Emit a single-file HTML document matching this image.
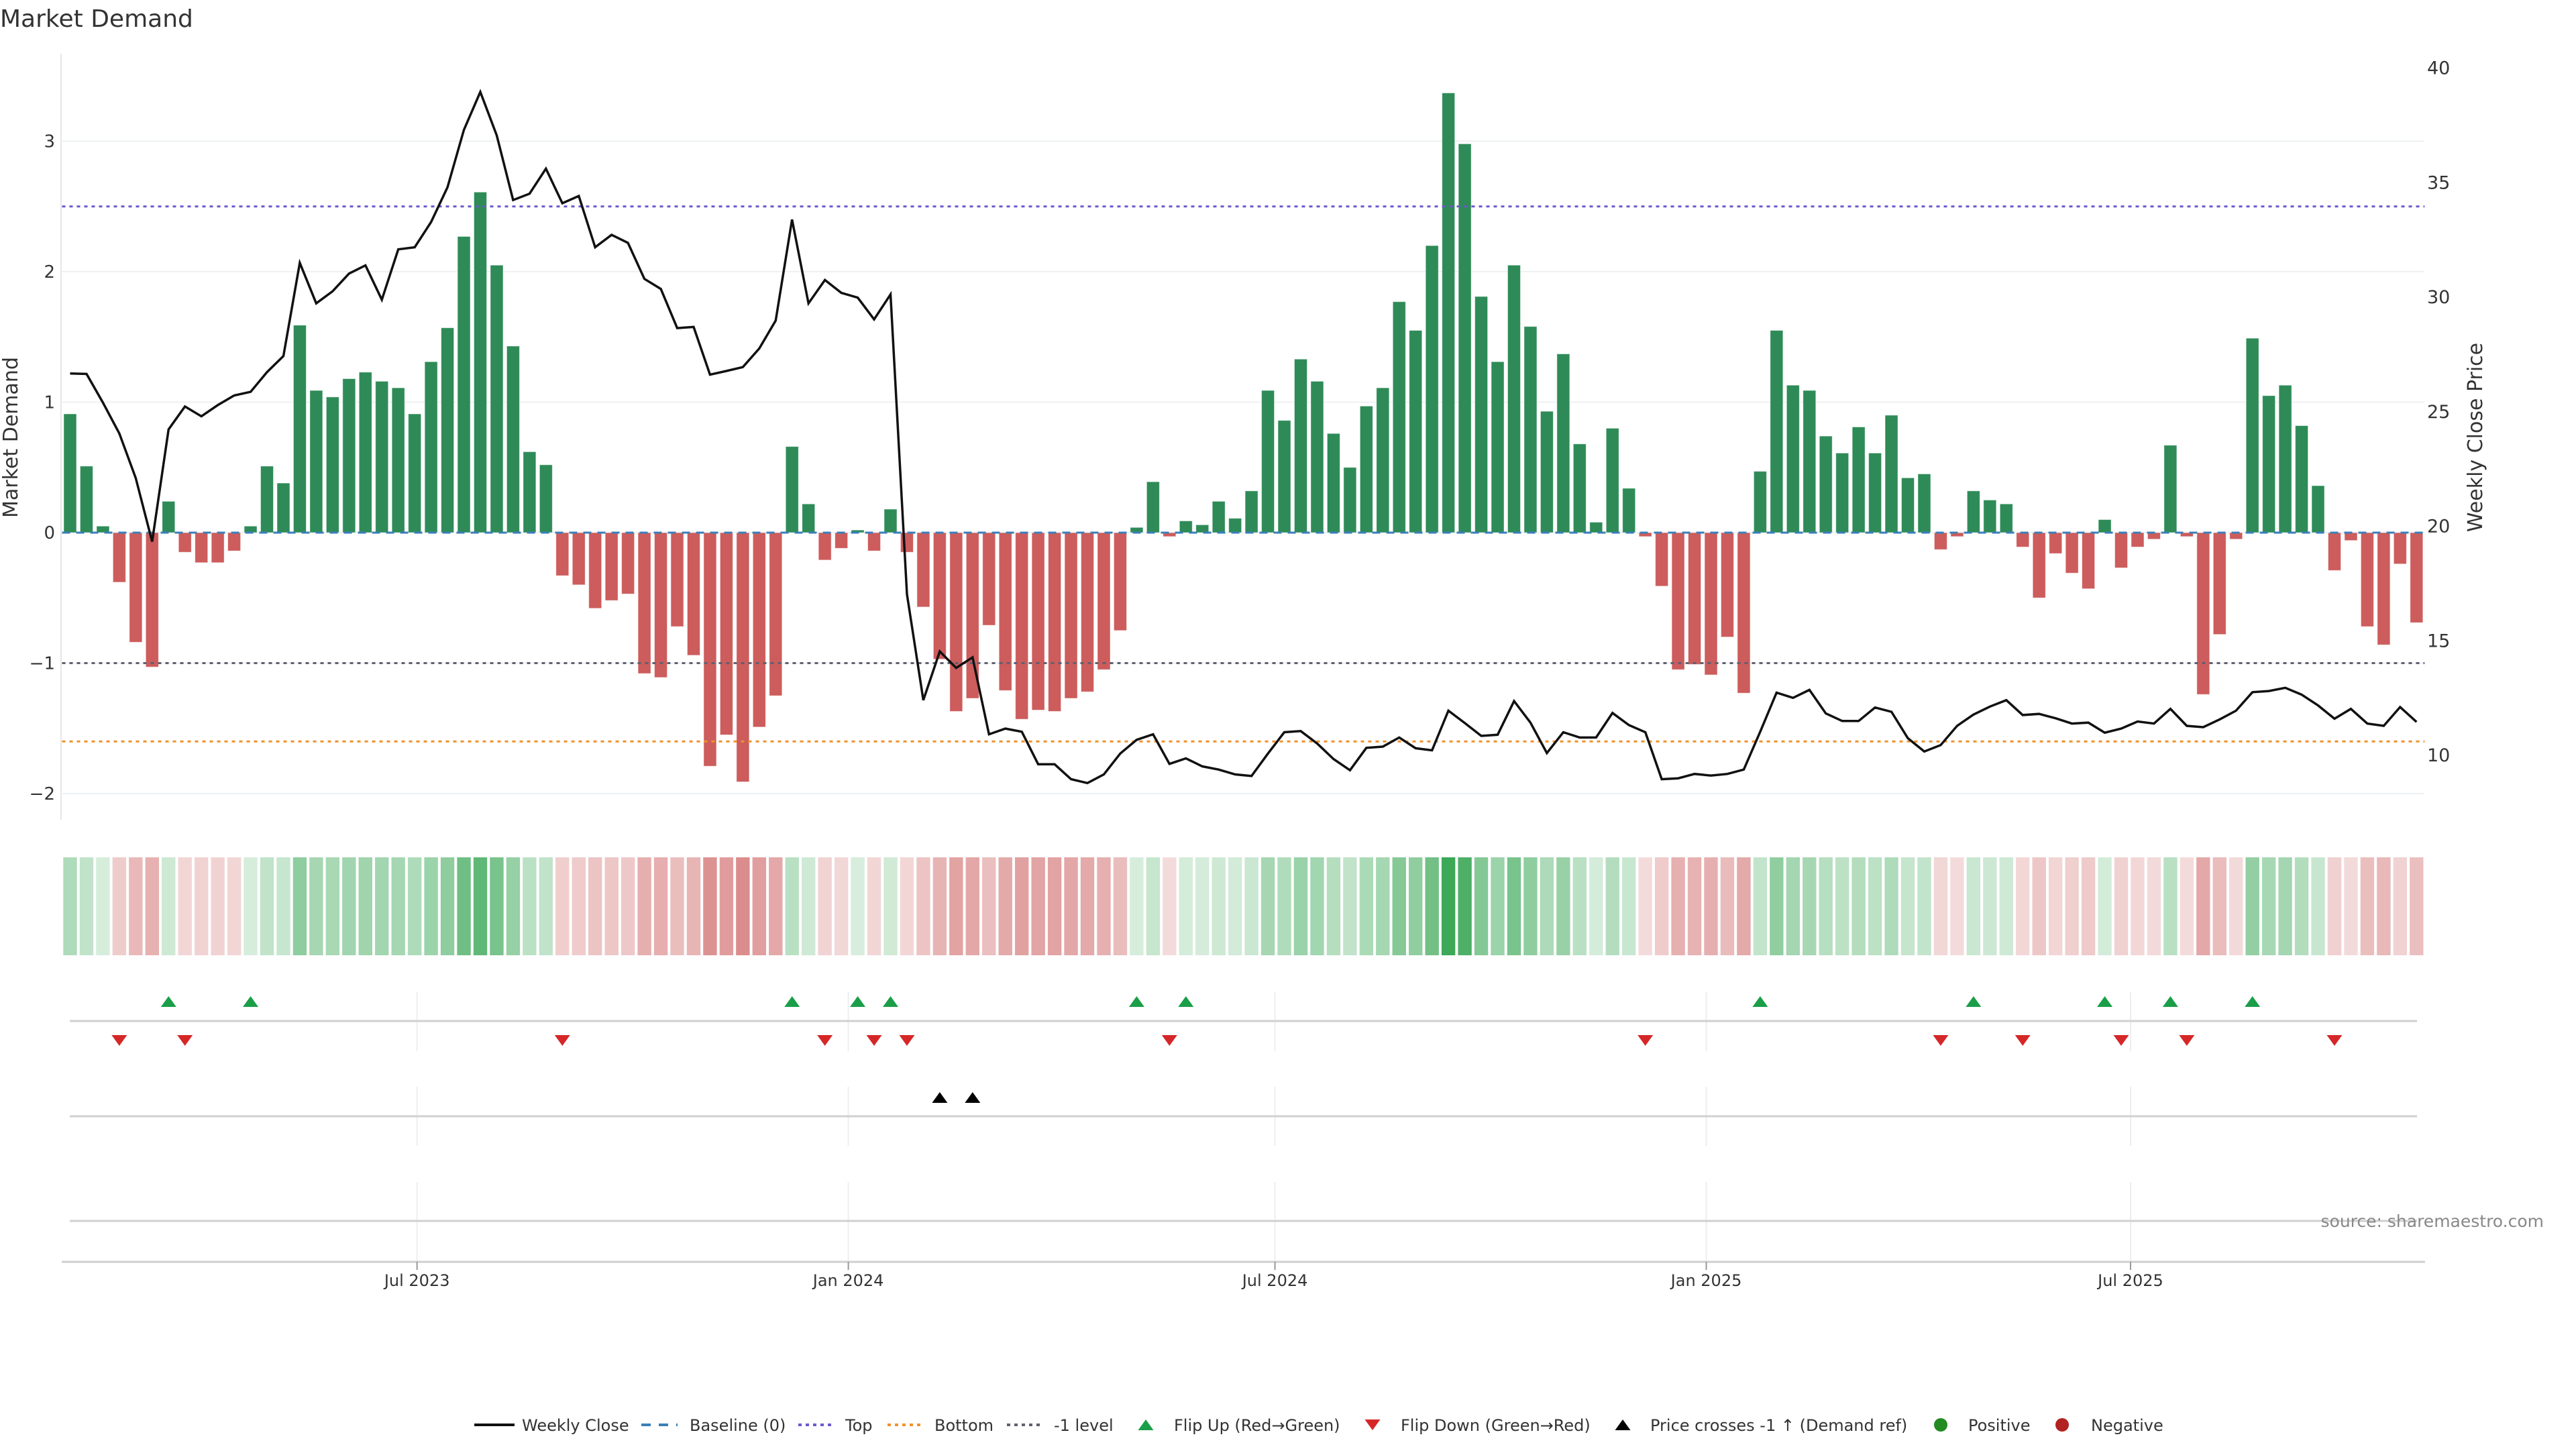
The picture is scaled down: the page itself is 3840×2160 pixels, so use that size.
<!DOCTYPE html>
<html><head><meta charset="utf-8"><title>Market Demand</title>
<style>
html,body{margin:0;padding:0;background:#fff;}
svg{display:block;font-family:"DejaVu Sans","Liberation Sans",sans-serif;}
</style></head>
<body>
<svg id="chart" xmlns="http://www.w3.org/2000/svg" width="3840" height="2160" viewBox="0 0 3840 2160">
<text x="0" y="40" font-size="36" fill="#333">Market Demand</text>
<text transform="translate(26,652) rotate(-90)" text-anchor="middle" font-size="30" fill="#333">Market Demand</text>
<text transform="translate(3700,652) rotate(-90)" text-anchor="middle" font-size="30" fill="#333">Weekly Close Price</text>
<g id="grid"></g>
<g id="bars"></g>
<g id="levels"></g>
<g id="price"></g>
<g id="strip"></g>
<g id="markers"></g>
<g id="xaxis"></g>
<text x="3792" y="1829" text-anchor="end" font-size="25" fill="#888">source: sharemaestro.com</text>
<g id="legend"></g>
</svg>
<script>
const demand = [0.91,0.51,0.05,-0.38,-0.84,-1.03,0.24,-0.15,-0.23,-0.23,-0.14,0.05,0.51,0.38,1.59,1.09,1.04,1.18,1.23,1.16,1.11,0.91,1.31,1.57,2.27,2.61,2.05,1.43,0.62,0.52,-0.33,-0.40,-0.58,-0.52,-0.47,-1.08,-1.11,-0.72,-0.94,-1.79,-1.55,-1.91,-1.49,-1.25,0.66,0.22,-0.21,-0.12,0.02,
-0.14,0.18,-0.15,-0.57,-0.97,-1.37,-1.27,-0.71,-1.21,-1.43,-1.36,-1.37,-1.27,-1.22,-1.05,-0.75,0.04,0.39,-0.03,0.09,0.06,0.24,0.11,0.32,1.09,0.86,1.33,1.16,0.76,0.50,0.97,1.11,1.77,1.55,2.20,3.37,2.98,1.81,1.31,2.05,1.58,0.93,1.37,0.68,0.08,0.80,0.34,-0.03,-0.41,-1.05,-1.01,-1.09,
-0.80,-1.23,0.47,1.55,1.13,1.09,0.74,0.61,0.81,0.61,0.90,0.42,0.45,-0.13,-0.03,0.32,0.25,0.22,-0.11,-0.50,-0.16,-0.31,-0.43,0.10,-0.27,-0.11,-0.05,0.67,-0.03,-1.24,-0.78,-0.05,1.49,1.05,1.13,0.82,0.36,-0.29,-0.06,-0.72,-0.86,-0.24,-0.69];
const closePrice = [26.64,26.62,25.37,24.02,22.08,19.3,24.2,25.2,24.77,25.26,25.68,25.84,26.7,27.4,31.47,29.7,30.23,31.0,31.36,29.86,32.06,32.15,33.25,34.77,37.27,38.93,37.03,34.21,34.49,35.58,34.07,34.39,32.15,32.69,32.34,30.77,30.33,28.62,28.67,26.59,26.75,26.92,27.73,28.95,33.36,29.7,30.72,30.16,29.95,
29.0,30.09,17.0,12.38,14.51,13.79,14.25,10.89,11.14,11.0,9.58,9.58,8.93,8.76,9.14,10.05,10.65,10.89,9.6,9.84,9.49,9.35,9.14,9.07,10.05,10.98,11.03,10.49,9.81,9.32,10.3,10.35,10.75,10.28,10.19,11.92,11.38,10.82,10.87,12.34,11.4,10.07,10.98,10.75,10.75,11.82,11.29,10.98,8.93,8.97,9.16,9.09,
9.16,9.35,11.0,12.71,12.48,12.83,11.8,11.47,11.47,12.06,11.87,10.72,10.14,10.42,11.26,11.75,12.1,12.38,11.73,11.78,11.59,11.36,11.4,10.96,11.14,11.45,11.36,12.0,11.26,11.2,11.54,11.92,12.73,12.78,12.92,12.62,12.15,11.57,12.0,11.36,11.26,12.08,11.43];
const leftTicks = [-2,-1,0,1,2,3];
const rightTicks = [10,15,20,25,30,35,40];
const levelValues = [2.5,-1,-1.6];
const xTickLabels = ["Jul 2023","Jan 2024","Jul 2024","Jan 2025","Jul 2025"];
const xTickDates = ["2023-07-01","2024-01-01","2024-07-01","2025-01-01","2025-07-01"];
const firstWeek = "2023-02-03";

const NS="http://www.w3.org/2000/svg";
function mk(parent,tag,attrs){const e=document.createElementNS(NS,tag);for(const k in attrs)e.setAttribute(k,attrs[k]);parent.appendChild(e);return e;}
const DAY=86400000, PXDAY=24.46/7, T0=Date.parse(firstWeek);
function xDate(d){return 104.5+(Date.parse(d)-T0)/DAY*PXDAY;}
function xIdx(i){return 104.5+i*7*PXDAY;}
function yL(v){return 794-194.5*v;}
function yR(p){return 100.5+(40-p)*34.15;}
const PL=91, PR=3614;

const grid=document.getElementById('grid');
mk(grid,'line',{x1:PL,y1:80,x2:PL,y2:1222,stroke:'#e6e6e6','stroke-width':2});
leftTicks.forEach(t=>{
  const l=mk(grid,'line',{x1:PL,y1:yL(t),x2:PR,y2:yL(t),stroke:'#eef0f2','stroke-width':2});
  
  
  const tx=mk(grid,'text',{x:82,y:yL(t)+9,'text-anchor':'end','font-size':26,fill:'#333'});
  tx.textContent=(t<0?'\u2212'+(-t):t);
  
  
});
rightTicks.forEach(t=>{
  const tx=mk(grid,'text',{x:3618,y:yR(t)+10,'font-size':27,fill:'#333'});
  tx.textContent=t;
  
  
});

const bars=document.getElementById('bars');
demand.forEach((v,i)=>{
  const y0=yL(0), y1=yL(v);
  const r=mk(bars,'rect',{x:xIdx(i)-9.5,y:Math.min(y0,y1),width:19,height:Math.max(1,Math.abs(y1-y0)),fill:v>=0?'#2e8b57':'#cd5c5c',stroke:'#fff','stroke-opacity':0.5,'stroke-width':1});
  
  
});

const lev=document.getElementById('levels');
const bl=mk(lev,'line',{x1:xIdx(0)-12,y1:yL(0),x2:xIdx(demand.length-1)+12,y2:yL(0),stroke:'#3a7fb8','stroke-width':3,'stroke-dasharray':'12,9'});


const levColors=['#6a5acd','#606070','#f0922a'];
const levNames=['top-level','minus-one-level','bottom-level'];
levelValues.forEach((v,k)=>{
  const l=mk(lev,'line',{x1:xIdx(0)-12,y1:yL(v),x2:xIdx(demand.length-1)+12,y2:yL(v),stroke:levColors[k],'stroke-width':3,'stroke-dasharray':'5,6'});
  
  
});

const pr=document.getElementById('price');
const pts=closePrice.map((p,i)=>xIdx(i).toFixed(1)+','+yR(p).toFixed(1)).join(' ');
const pl=mk(pr,'polyline',{points:pts,fill:'none',stroke:'#111','stroke-width':3.5,'stroke-linejoin':'miter'});



const strip=document.getElementById('strip');
const maxAbs=Math.max(...demand.map(Math.abs));
demand.forEach((v,i)=>{
  const a=0.2+0.8*Math.abs(v)/maxAbs;
  const c=v>=0?[60,168,88]:[200,80,80];
  const col='rgb('+c.map(x=>Math.round(255-a*(255-x))).join(',')+')';
  const r=mk(strip,'rect',{x:xIdx(i)-10.2,y:1278,width:20.4,height:146,fill:col});
  
  
});

const mkG=document.getElementById('markers');
const xTickX=xTickDates.map(xDate);
[[1479,1567],[1620,1708],[1762,1881]].forEach(([a,b])=>{
  xTickX.forEach(x=>{
    const l=mk(mkG,'line',{x1:x,y1:a,x2:x,y2:b,stroke:'#eceef2','stroke-width':2});
    
    
  });
});
[1522,1664,1820].forEach(y=>{
  const l=mk(mkG,'line',{x1:104,y1:y,x2:3603,y2:y,stroke:'#d0d0d0','stroke-width':3});
  
  
});
function tri(g,x,y,up,color,name){
  const h=16,w=11.5;
  const d=up?`M${x-w},${y+h/2} L${x+w},${y+h/2} L${x},${y-h/2} Z`:`M${x-w},${y-h/2} L${x+w},${y-h/2} L${x},${y+h/2} Z`;
  const p=mk(g,'path',{d:d,fill:color});
  
  
}
const crossLevel=(yL(-1)-100.5)/-34.15+40;
for(let i=1;i<demand.length;i++){
  if(demand[i-1]<0&&demand[i]>=0) tri(mkG,xIdx(i),1493,true,'#1a9e48','flip-up-marker');
  if(demand[i-1]>=0&&demand[i]<0) tri(mkG,xIdx(i),1551,false,'#d62728','flip-down-marker');
  if(closePrice[i-1]<crossLevel&&closePrice[i]>=crossLevel) tri(mkG,xIdx(i),1636,true,'#000','price-cross-marker');
}

const xa=document.getElementById('xaxis');
mk(xa,'line',{x1:92,y1:1881,x2:3615,y2:1881,stroke:'#cfcfcf','stroke-width':3});
xTickLabels.forEach((lab,k)=>{
  const x=xTickX[k];
  mk(xa,'line',{x1:x,y1:1881,x2:x,y2:1893,stroke:'#999','stroke-width':2});
  const t=mk(xa,'text',{x:x,y:1917,'text-anchor':'middle','font-size':24,fill:'#333'});
  t.textContent=lab;
  
  
});

const lg=document.getElementById('legend');
const LY=2124;
function ltext(x,s){const t=mk(lg,'text',{x:x,y:LY+9,'font-size':24,fill:'#333'});t.textContent=s;return t;}
function litem(name){const g=mk(lg,'g',{});return g;}
let g;
g=litem('legend-weekly-close');mk(g,'line',{x1:707,y1:LY,x2:767,y2:LY,stroke:'#111','stroke-width':4});ltext(778,'Weekly Close');
g=litem('legend-baseline');mk(g,'line',{x1:956,y1:LY,x2:1010,y2:LY,stroke:'#3a7fb8','stroke-width':4,'stroke-dasharray':'14,12'});ltext(1028,'Baseline (0)');
g=litem('legend-top');mk(g,'line',{x1:1190,y1:LY,x2:1244,y2:LY,stroke:'#6a5acd','stroke-width':4,'stroke-dasharray':'5,6'});ltext(1260,'Top');
g=litem('legend-bottom');mk(g,'line',{x1:1323,y1:LY,x2:1377,y2:LY,stroke:'#f0922a','stroke-width':4,'stroke-dasharray':'5,6'});ltext(1393,'Bottom');
g=litem('legend-minus-one');mk(g,'line',{x1:1501,y1:LY,x2:1555,y2:LY,stroke:'#606070','stroke-width':4,'stroke-dasharray':'5,6'});ltext(1571,'-1 level');
g=litem('legend-flip-up');tri(g,1708,LY,true,'#1a9e48','legend-flip-up-icon');ltext(1750,'Flip Up (Red\u2192Green)');
g=litem('legend-flip-down');tri(g,2046,LY,false,'#d62728','legend-flip-down-icon');ltext(2088,'Flip Down (Green\u2192Red)');
g=litem('legend-price-cross');tri(g,2419,LY,true,'#000','legend-price-cross-icon');ltext(2460,'Price crosses -1 \u2191 (Demand ref)');
g=litem('legend-positive');mk(g,'circle',{cx:2893,cy:LY,r:10,fill:'#228b22'});ltext(2934,'Positive');
g=litem('legend-negative');mk(g,'circle',{cx:3074,cy:LY,r:10,fill:'#b22222'});ltext(3117,'Negative');
</script>
</body></html>
